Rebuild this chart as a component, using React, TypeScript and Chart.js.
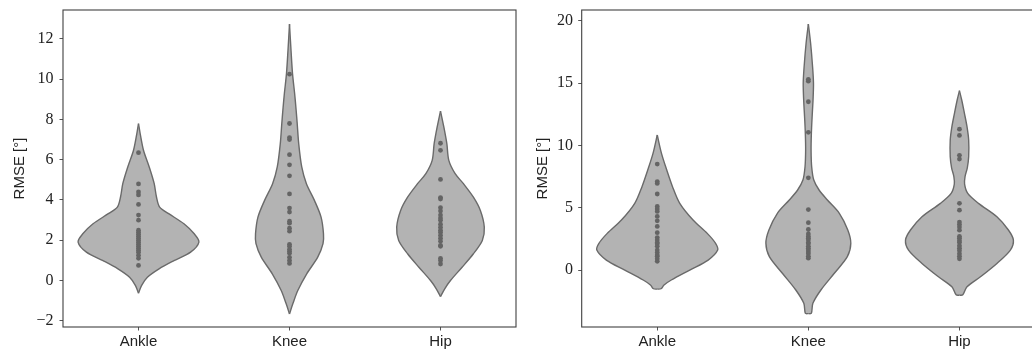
import React, { useEffect, useRef } from "react";
import { Chart, registerables } from "chart.js";

Chart.register(...registerables);

const categories = ["Ankle", "Knee", "Hip"];

// ---- Left panel: individual RMSE observations ----
const leftAnkle = [6.35, 4.8, 4.4, 4.25, 3.78, 3.25, 3.0, 2.5, 2.4, 2.3, 2.2, 2.1, 2.0, 1.9, 1.8, 1.7, 1.6, 1.5, 1.4, 1.25, 1.1, 0.75];
const leftKnee = [10.25, 7.8, 7.1, 7.0, 6.25, 5.75, 5.2, 4.3, 3.6, 3.4, 2.95, 2.85, 2.6, 2.45, 1.8, 1.7, 1.55, 1.45, 1.35, 1.15, 1.0, 0.85];
const leftHip = [6.82, 6.47, 5.02, 4.12, 4.05, 3.62, 3.45, 3.25, 3.1, 3.0, 2.8, 2.65, 2.5, 2.4, 2.25, 2.1, 1.95, 1.75, 1.7, 1.1, 1.0, 0.82];

// ---- Right panel: individual RMSE observations ----
const rightAnkle = [8.5, 7.1, 6.95, 6.1, 5.1, 4.9, 4.7, 4.3, 3.95, 3.5, 3.0, 2.6, 2.4, 2.2, 2.1, 1.9, 1.6, 1.4, 1.2, 1.1, 0.9, 0.7];
const rightKnee = [15.3, 15.15, 13.5, 11.05, 7.4, 4.85, 3.8, 3.25, 2.9, 2.7, 2.55, 2.4, 2.2, 2.1, 1.9, 1.75, 1.6, 1.45, 1.3, 1.1, 0.95];
const rightHip = [11.3, 10.8, 9.2, 8.9, 5.35, 4.8, 3.85, 3.65, 3.45, 3.2, 2.7, 2.55, 2.35, 2.2, 1.95, 1.75, 1.55, 1.3, 1.1, 0.9];

// ---- Violin outlines: levels (RMSE) and half-widths (category units) ----
const leftAnkleLevels = [-0.63, -0.25, 0.16, 0.58, 0.99, 1.41, 1.91, 2.32, 2.82, 3.32, 3.65, 4.15, 4.81, 5.64, 6.47, 7.3, 7.8];
const leftAnkleWidths = [0, 0.02, 0.059, 0.136, 0.235, 0.345, 0.4, 0.369, 0.301, 0.2, 0.14, 0.119, 0.104, 0.071, 0.033, 0.011, 0];
const leftKneeLevels = [-1.66, -1.16, -0.5, 0.33, 1.16, 1.83, 2.32, 3.15, 3.98, 4.81, 5.64, 6.8, 7.8, 8.46, 9.29, 10.28, 11.44, 12.74];
const leftKneeWidths = [0, 0.022, 0.055, 0.114, 0.187, 0.222, 0.225, 0.209, 0.165, 0.112, 0.081, 0.061, 0.051, 0.044, 0.034, 0.02, 0.01, 0];
const leftHipLevels = [-0.8, -0.41, 0, 0.66, 1.33, 1.99, 2.65, 3.48, 4.14, 4.81, 5.31, 5.97, 6.8, 7.63, 8.42];
const leftHipWidths = [0, 0.028, 0.066, 0.143, 0.218, 0.277, 0.29, 0.264, 0.218, 0.152, 0.097, 0.055, 0.042, 0.022, 0];

const rightAnkleLevels = [-1.53, -1.5, -1.2, -0.8, 0, 0.8, 1.6, 2.14, 2.94, 4.01, 5.35, 6.69, 8.02, 9.36, 10.83];
const rightAnkleWidths = [0, 0.025, 0.045, 0.093, 0.215, 0.337, 0.4, 0.386, 0.331, 0.237, 0.149, 0.101, 0.063, 0.028, 0];
const rightKneeLevels = [-3.5, -3.47, -2.67, -1.6, -0.26, 1.07, 2.14, 3.21, 4.55, 5.62, 6.42, 7.22, 8.29, 9.63, 10.96, 12.3, 13.64, 14.98, 16.31, 18.19, 19.74];
const rightKneeWidths = [0, 0.02, 0.03, 0.083, 0.172, 0.258, 0.281, 0.261, 0.205, 0.126, 0.071, 0.036, 0.022, 0.018, 0.02, 0.025, 0.031, 0.034, 0.028, 0.015, 0];
const rightHipLevels = [-2.02, -1.99, -1.34, -0.54, 0.53, 1.6, 2.41, 3.21, 4.28, 5.35, 6.15, 6.9, 7.5, 8.2, 9.09, 10.43, 11.5, 12.57, 13.64, 14.39];
const rightHipWidths = [0, 0.022, 0.05, 0.139, 0.248, 0.337, 0.357, 0.324, 0.248, 0.126, 0.055, 0.034, 0.037, 0.052, 0.061, 0.061, 0.05, 0.033, 0.015, 0];

// ---- Axes ----
const leftYTicks = [-2, 0, 2, 4, 6, 8, 10, 12];
const rightYTicks = [0, 5, 10, 15, 20];
const leftYRange = [-2.31, 13.44];
const rightYRange = [-4.57, 20.86];
const yTitle = "RMSE [°]";

const FILL = "#b3b3b3";
const EDGE = "#6a6a6a";
const DOT = "#646464";
const FRAME = "#404040";
const TEXT = "#222222";

function violinDatasets(idx: number, levels: number[], widths: number[]) {
  const common = {
    type: "line" as const,
    borderColor: EDGE,
    borderWidth: 1.4,
    backgroundColor: FILL,
    pointRadius: 0,
    tension: 0.3,
    order: 2,
  };
  return [
    { ...common, fill: false, data: levels.map((y, i) => ({ x: idx + widths[i], y })) },
    { ...common, fill: "-1", data: levels.map((y, i) => ({ x: idx - widths[i], y })) },
  ];
}

const framePlugin = {
  id: "frame",
  afterDraw(chart: any) {
    const { ctx, chartArea } = chart;
    ctx.save();
    ctx.strokeStyle = FRAME;
    ctx.lineWidth = 1.1;
    ctx.strokeRect(chartArea.left, chartArea.top, chartArea.right - chartArea.left, chartArea.bottom - chartArea.top);
    ctx.restore();
  },
};

type PanelProps = {
  points: number[][];
  levels: number[][];
  widths: number[][];
  yTicks: number[];
  yRange: number[];
  yAxisWidth: number;
  padRight: number;
  titlePad: number;
  tickPad: number;
  left: number;
};

function Panel(props: PanelProps) {
  const ref = useRef<HTMLCanvasElement | null>(null);
  useEffect(() => {
    if (!ref.current) return;
    const dots = {
      type: "scatter" as const,
      data: props.points.flatMap((vals, i) => vals.map((v) => ({ x: i, y: v }))),
      pointRadius: 2.4,
      pointBackgroundColor: DOT,
      pointBorderWidth: 0,
      showLine: false,
      order: 0,
    };
    const violins = props.levels.flatMap((lv, i) => violinDatasets(i, lv, props.widths[i]));
    const chart = new Chart(ref.current, {
      type: "line",
      data: { datasets: [dots as any, ...(violins as any)] },
      options: {
        indexAxis: "y",
        animation: false,
        responsive: false,
        devicePixelRatio: 1,
        layout: { padding: { left: 0, top: 10, right: props.padRight, bottom: 0 } },
        plugins: { legend: { display: false }, tooltip: { enabled: false } },
        scales: {
          x: {
            type: "linear",
            min: -0.5,
            max: 2.5,
            afterBuildTicks: (axis: any) => {
              axis.ticks = categories.map((_, i) => ({ value: i }));
            },
            afterFit: (axis: any) => {
              axis.height = 25;
              axis.paddingLeft = 0;
              axis.paddingRight = 0;
              axis.paddingTop = 0;
              axis.paddingBottom = 0;
            },
            grid: { display: true, drawOnChartArea: false, drawTicks: true, tickLength: 3.5, color: "#555", lineWidth: 1 },
            border: { display: false },
            ticks: {
              autoSkip: false,
              maxRotation: 0,
              padding: 2,
              color: TEXT,
              font: { family: "'Liberation Sans', Arial, sans-serif", size: 15 },
              callback: (v: any) => categories[Math.round(Number(v))] ?? "",
            },
          },
          y: {
            type: "linear",
            min: props.yRange[0],
            max: props.yRange[1],
            afterBuildTicks: (axis: any) => {
              axis.ticks = props.yTicks.map((v) => ({ value: v }));
            },
            afterFit: (axis: any) => {
              axis.width = props.yAxisWidth;
              axis.paddingLeft = 0;
              axis.paddingRight = 0;
              axis.paddingTop = 0;
              axis.paddingBottom = 0;
            },
            grid: { display: true, drawOnChartArea: false, drawTicks: true, tickLength: 3.5, color: "#555", lineWidth: 1 },
            border: { display: false },
            ticks: {
              autoSkip: false,
              padding: props.tickPad,
              color: TEXT,
              font: { family: "'Liberation Serif', 'Times New Roman', serif", size: 16 },
              callback: (v: any) => {
                const n = Number(v);
                return n < 0 ? "\u2212" + Math.abs(n) : String(n);
              },
            },
            title: {
              display: true,
              text: yTitle,
              color: TEXT,
              padding: { top: props.titlePad, bottom: 0 },
              font: { family: "'Liberation Sans', Arial, sans-serif", size: 15 },
            },
          },
        },
      },
      plugins: [framePlugin],
    });
    return () => chart.destroy();
  }, []);
  return (
    <canvas
      ref={ref}
      width={520}
      height={352}
      style={{ position: "absolute", left: props.left, top: 0, width: 520, height: 352 }}
    />
  );
}

export default function App() {
  return (
    <div
      style={{
        position: "fixed",
        left: 0,
        top: 0,
        width: 1032,
        height: 352,
        overflow: "hidden",
        background: "#ffffff",
      }}
    >
      <Panel
        points={[leftAnkle, leftKnee, leftHip]}
        levels={[leftAnkleLevels, leftKneeLevels, leftHipLevels]}
        widths={[leftAnkleWidths, leftKneeWidths, leftHipWidths]}
        yTicks={leftYTicks}
        yRange={leftYRange}
        yAxisWidth={63}
        padRight={2}
        titlePad={11}
        tickPad={6}
        left={0}
      />
      <Panel
        points={[rightAnkle, rightKnee, rightHip]}
        levels={[rightAnkleLevels, rightKneeLevels, rightHipLevels]}
        widths={[rightAnkleWidths, rightKneeWidths, rightHipWidths]}
        yTicks={rightYTicks}
        yRange={rightYRange}
        yAxisWidth={61.7}
        padRight={5}
        titlePad={13.5}
        tickPad={5.2}
        left={520}
      />
    </div>
  );
}
